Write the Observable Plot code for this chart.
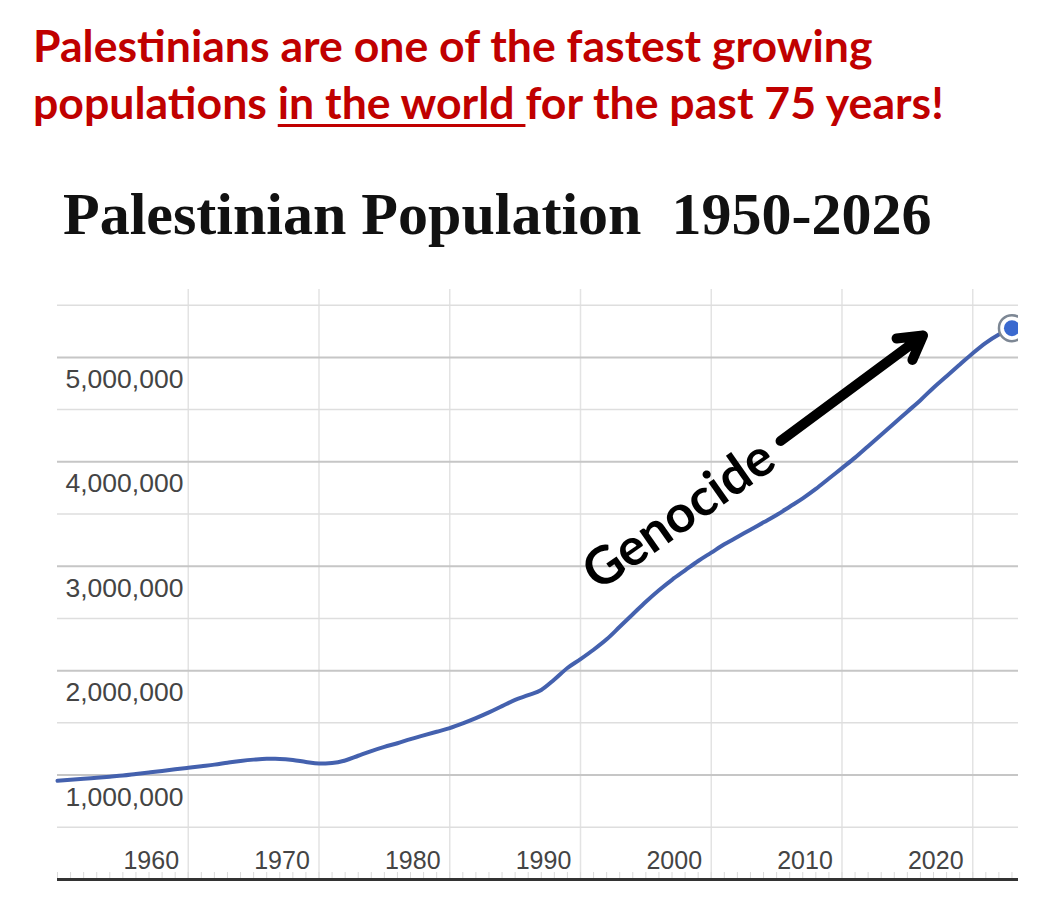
<!DOCTYPE html>
<html>
<head>
<meta charset="utf-8">
<script src="https://cdn.jsdelivr.net/npm/d3@7"></script>
<script src="https://cdn.jsdelivr.net/npm/@observablehq/plot@0.6"></script>
<style>
  body { margin: 0; background: #fff; }
  #page { position: relative; width: 1045px; height: 917px; overflow: hidden; background: #fff; }
  #headline {
    position: absolute; left: 33px; top: 16px;
    font-family: Lato, "Open Sans", sans-serif; font-weight: 700;
    font-size: 44.6px; line-height: 57px; color: #c00000; white-space: nowrap;
  }
  #headline u { text-decoration-thickness: 3px; text-underline-offset: 5px; }
  #title {
    position: absolute; left: 63px; top: 184px;
    font-family: "Liberation Serif", "Times New Roman", serif; font-weight: 700;
    font-size: 60px; line-height: 60px; color: #111; white-space: pre;
  }
  #chart { position: absolute; left: 0; top: 270px; }
</style>
</head>
<body>
<div id="page">
  <div id="headline">Palestinians are one of the fastest growing<br>populations <u>in the world </u>for the past 75 years!</div>
  <div id="title">Palestinian Population  1950-2026</div>
  <div id="chart"></div>
</div>
<script>
// Palestinian population by year
const years = [
  1950, 1951, 1952, 1953, 1954, 1955, 1956, 1957, 1958, 1959,
  1960, 1961, 1962, 1963, 1964, 1965, 1966, 1967, 1968, 1969,
  1970, 1971, 1972, 1973, 1974, 1975, 1976, 1977, 1978, 1979,
  1980, 1981, 1982, 1983, 1984, 1985, 1986, 1987, 1988, 1989,
  1990, 1991, 1992, 1993, 1994, 1995, 1996, 1997, 1998, 1999,
  2000, 2001, 2002, 2003, 2004, 2005, 2006, 2007, 2008, 2009,
  2010, 2011, 2012, 2013, 2014, 2015, 2016, 2017, 2018, 2019,
  2020, 2021, 2022, 2023
];
const population = [
  945000, 955000, 965000, 975000, 985000, 995000, 1010000, 1025000, 1040000, 1055000,
  1070000, 1085000, 1100000, 1118000, 1135000, 1148000, 1156000, 1155000, 1145000, 1125000,
  1110000, 1115000, 1140000, 1185000, 1230000, 1270000, 1305000, 1345000, 1380000, 1415000,
  1450000, 1495000, 1545000, 1600000, 1660000, 1720000, 1765000, 1815000, 1915000, 2025000,
  2110000, 2200000, 2300000, 2420000, 2540000, 2660000, 2770000, 2870000, 2960000, 3050000,
  3130000, 3210000, 3280000, 3350000, 3420000, 3490000, 3570000, 3650000, 3740000, 3840000,
  3940000, 4040000, 4150000, 4260000, 4370000, 4480000, 4590000, 4710000, 4820000, 4930000,
  5040000, 5140000, 5220000, 5280000
];

// Axis ticks
const majorTicks = [1000000, 2000000, 3000000, 4000000, 5000000];
const minorTicks = [500000, 1500000, 2500000, 3500000, 4500000, 5500000];
const decadeTicks = [1960, 1970, 1980, 1990, 2000, 2010, 2020];

// Annotation: label anchored on a year of the series, arrow endpoints in data units
const noteText = "Genocide";
const noteYear = 1998;
const arrowYears = [2005.3, 2016.2];
const arrowValues = [4200000, 5210000];

const data = years.map((year, i) => ({year, population: population[i]}));
const latest = data.slice(-1);
const note = data.filter(d => d.year === noteYear);
const arrowData = [{x1: arrowYears[0], y1: arrowValues[0], x2: arrowYears[1], y2: arrowValues[1]}];

const chart = Plot.plot({
  width: 1045,
  height: 647,
  marginLeft: 57,
  marginRight: 27,
  marginTop: 19,
  marginBottom: 38,
  x: {domain: [1950, 2023.5], axis: null},
  y: {domain: [0, 5650000], axis: null},
  style: {fontFamily: "'Liberation Sans', Arial, sans-serif", background: "transparent", overflow: "visible"},
  marks: [
    Plot.ruleX(decadeTicks, {x: d => d, stroke: "#e3e3e3", strokeWidth: 1.5}),
    Plot.ruleY(minorTicks, {y: d => d, stroke: "#dedede", strokeWidth: 1.5}),
    Plot.ruleY(majorTicks, {y: d => d, stroke: "#c6c6c6", strokeWidth: 2}),
    Plot.ruleX(years, {x: d => d, stroke: "#dadada", strokeWidth: 1, insetTop: 583}),
    Plot.ruleY([0], {stroke: "#333", strokeWidth: 3}),
    Plot.text(majorTicks, {
      y: d => d, frameAnchor: "left", text: d => d3.format(",")(d),
      textAnchor: "start", dx: 8, dy: 22, fontSize: 26.5, fill: "#444"
    }),
    Plot.text(decadeTicks, {
      x: d => d, frameAnchor: "bottom", text: d => String(d),
      dx: -37, dy: -11, fontSize: 25, fill: "#444"
    }),
    Plot.line(data, {x: "year", y: "population", stroke: "#4461ae", strokeWidth: 4, curve: "monotone-x"}),
    Plot.dot(latest, {x: "year", y: "population", r: 13, fill: "white", stroke: "#7d8794", strokeWidth: 2.5, clip: true}),
    Plot.dot(latest, {x: "year", y: "population", r: 8, fill: "#3a69cf", clip: true}),
    Plot.text(note, {
      x: "year", y: "population", text: () => noteText, rotate: -35, dy: -55, dx: -6,
      fontSize: 52, fontWeight: 700, fontFamily: "Lato, 'Open Sans', sans-serif", fill: "#000"
    }),
    Plot.arrow(arrowData, {
      x1: "x1", y1: "y1", x2: "x2", y2: "y2",
      stroke: "#000", strokeWidth: 10, headLength: 4, headAngle: 60, strokeLinejoin: "miter"
    })
  ]
});
document.getElementById("chart").append(chart);
</script>
</body>
</html>
